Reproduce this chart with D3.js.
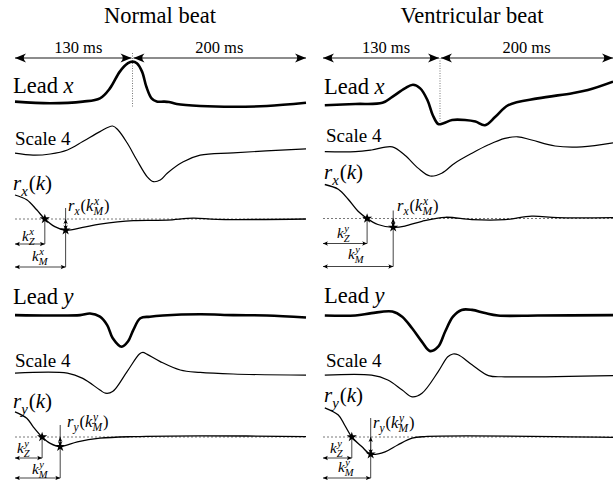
<!DOCTYPE html>
<html>
<head>
<meta charset="utf-8">
<script src="https://cdn.jsdelivr.net/npm/d3@7"></script>
<style>
  body { margin: 0; background: #fff; }
</style>
</head>
<body>
<div id="chart"></div>
<script>
// time in ms relative to the fiducial point, amplitude in arbitrary units
var normalLeadX = [[-130,0.06],[-91,0.02],[-55,0.06],[-36,0.14],[-25,0.39],[-14,0.81],[-5,1.02],[0,1.06],[5,1.02],[11,0.81],[16,0.43],[22,0.14],[28,0.06],[36,0.06],[42,0.05],[51,0],[78,-0.05],[116,-0.07],[155,-0.05],[200,0.03]];
var normalScaleX = [[-130,-0.03],[-110,-0.08],[-91,-0.05],[-72,0.05],[-55,0.26],[-36,0.51],[-22,0.65],[-16,0.55],[-6,0.23],[5,-0.2],[17,-0.62],[24,-0.74],[32,-0.7],[40,-0.53],[58,-0.25],[78,-0.08],[116,-0.02],[200,0.08]];
var normalRx = [[-130,0.6],[-117,0.48],[-106,0.23],[-97,0],[-86,-0.19],[-74,-0.28],[-55,-0.21],[-36,-0.13],[1,-0.04],[40,-0.03],[70,0.02],[97,-0.01],[200,0]];
var normalRxMarks = [[-97,0],[-74,-0.28]];
var normalLeadY = [[-130,0.01],[-91,0],[-58,0.01],[-47,0.05],[-36,-0.03],[-28,-0.24],[-22,-0.56],[-12,-0.78],[-5,-0.65],[1,-0.36],[9,-0.07],[20,-0.03],[35,0],[78,0.03],[116,0.01],[155,0],[200,-0.05]];
var normalScaleY = [[-130,0.02],[-72,0.02],[-55,-0.11],[-36,-0.4],[-30,-0.48],[-22,-0.44],[-6,0.06],[8,0.5],[12,0.54],[17,0.49],[32,0.31],[55,0.1],[78,0.04],[116,0],[200,-0.03]];
var normalRy = [[-130,0.63],[-117,0.47],[-110,0.26],[-100,0],[-91,-0.16],[-80,-0.24],[-61,-0.12],[-36,-0.03],[1,0.01],[78,0.03],[200,0.01]];
var normalRyMarks = [[-100,0],[-80,-0.24]];

var ventLeadX = [[-128,-0.03],[-94,0],[-64,0.03],[-53,0.18],[-39,0.39],[-30,0.48],[-22,0.39],[-14,0.1],[-8,-0.28],[-2,-0.5],[4,-0.48],[14,-0.4],[29,-0.4],[41,-0.44],[52,-0.53],[64,-0.32],[79,-0.03],[113,0.14],[153,0.27],[171,0.35],[200,0.56]];
var ventScaleX = [[-128,0.01],[-94,0.01],[-76,0.05],[-53,0.13],[-39,-0.08],[-24,-0.41],[-11,-0.6],[2,-0.53],[17,-0.28],[37,-0.03],[56,0.18],[75,0.34],[90,0.38],[106,0.3],[133,0.15],[164,0.13],[200,0.23]];
var ventRx = [[-128,0.85],[-113,0.73],[-102,0.48],[-91,0.18],[-81,0],[-69,-0.15],[-52,-0.22],[-39,-0.19],[-20,-0.07],[6,0.03],[37,-0.03],[75,-0.03],[106,0.06],[136,0.02],[200,0.02]];
var ventRxMarks = [[-81,0],[-52,-0.22]];
var ventLeadY = [[-128,0],[-94,0],[-76,0.06],[-53,0.1],[-42,-0.03],[-31,-0.32],[-20,-0.66],[-11,-0.89],[-2,-0.78],[6,-0.4],[15,-0.03],[25,0.14],[37,0.14],[52,0.06],[67,0],[113,0],[200,0.01]];
var ventScaleY = [[-128,-0.03],[-76,-0.03],[-58,-0.15],[-42,-0.4],[-31,-0.57],[-20,-0.48],[-2,0.06],[9,0.43],[15,0.5],[21,0.48],[37,0.23],[56,-0.04],[75,-0.07],[200,-0.04]];
var ventRy = [[-128,0.73],[-113,0.55],[-106,0.3],[-98,0],[-87,-0.24],[-77,-0.43],[-61,-0.37],[-47,-0.2],[-31,-0.03],[-17,0.01],[200,-0.01]];
var ventRyMarks = [[-98,0],[-77,-0.43]];

var spans = [[-130, 0], [0, 200]];
var spanLabels = ['130 ms', '200 ms'];
var spanLabelAt = [-60, 100];

var FONT = 'Liberation Serif';

var svg = d3.select('#chart').append('svg')
    .attr('width', 613)
    .attr('height', 480);

var defs = svg.append('defs');
defs.append('marker')
    .attr('id', 'big').attr('viewBox', '-12 -5 13 10')
    .attr('refX', 0).attr('refY', 0)
    .attr('markerWidth', 13).attr('markerHeight', 10)
    .attr('markerUnits', 'userSpaceOnUse')
    .attr('orient', 'auto-start-reverse')
    .append('path').attr('d', 'M0,0 L-11,-4.5 Q-6.5,0 -11,4.5 Z').attr('fill', '#000');
defs.append('marker')
    .attr('id', 'small').attr('viewBox', '-6 -3 7 6')
    .attr('refX', 0).attr('refY', 0)
    .attr('markerWidth', 7).attr('markerHeight', 6)
    .attr('markerUnits', 'userSpaceOnUse')
    .attr('orient', 'auto-start-reverse')
    .append('path').attr('d', 'M0,0 L-5,-2.2 Q-3,0 -5,2.2 Z').attr('fill', '#000');

// measures a string in the given style
var probe = svg.append('text').attr('x', -100).attr('y', -100).style('font-family', FONT);
function textWidth(s, size, italic) {
    probe.style('font-size', size + 'px').style('font-style', italic ? 'italic' : 'normal').text(s);
    return probe.node().getComputedTextLength();
}

// one <text> per formula; stacked scripts are tspans moved back under each other
function mathText(g, x, y, size, tokens) {
    var t = g.append('text').attr('x', x).attr('y', y)
        .style('font-family', FONT).style('font-size', size + 'px')
        .attr('xml:space', 'preserve');
    var cur = 0, pendDx = 0;
    var ss = size * 0.7;
    tokens.forEach(function(tk) {
        if (tk.sub !== undefined || tk.sup !== undefined) {
            var wSup = tk.sup !== undefined ? textWidth(tk.sup, ss, true) : 0;
            var wSub = tk.sub !== undefined ? textWidth(tk.sub, ss, true) : 0;
            if (tk.sup !== undefined) {
                t.append('tspan').attr('dx', 0.5).attr('dy', -size * 0.38 - cur)
                    .style('font-size', ss + 'px').style('font-style', 'italic').text(tk.sup);
                cur = -size * 0.38;
            }
            if (tk.sub !== undefined) {
                t.append('tspan').attr('dx', tk.sup !== undefined ? -(wSup + 0.5) : 0)
                    .attr('dy', size * 0.27 - cur)
                    .style('font-size', ss + 'px').style('font-style', 'italic').text(tk.sub);
                cur = size * 0.27;
            }
            pendDx = Math.max(wSup + 0.5, wSub) - (tk.sub !== undefined ? wSub : wSup + 0.5) + 1;
        } else {
            t.append('tspan').attr('dx', pendDx).attr('dy', -cur)
                .style('font-style', tk.it ? 'italic' : 'normal').text(tk.s);
            cur = 0; pendDx = 0;
        }
    });
}

var panels = [
    {title: 'Normal beat', titleX: 160, range: [15, 132.5, 306], dotted: [53, 108],
     rows: [
        {data: normalLeadX, base: 104, w: 2.6},
        {data: normalScaleX, base: 152, w: 1.2},
        {data: normalRx, base: 219, w: 1.3, marks: normalRxMarks, dz: 25, dm: 48, top: -11},
        {data: normalLeadY, base: 315.5, w: 2.6},
        {data: normalScaleY, base: 374, w: 1.2},
        {data: normalRy, base: 437, w: 1.3, marks: normalRyMarks, dz: 21, dm: 41, top: -12}
     ],
     labels: {lx: 13, leadX: 93, scaleX: 145, rx: 190, leadY: 304, scaleY: 367, ry: 408,
              rmx: [68, 211], kzx: [22, 241], kmx: [32, 261],
              rmy: [67, 427], kzy: [17, 453], kmy: [32, 474]},
     kAxis: 'x'},
    {title: 'Ventricular beat', titleX: 472, range: [323, 440, 613], dotted: [58, 125],
     rows: [
        {data: ventLeadX, base: 104, w: 2.6},
        {data: ventScaleX, base: 152, w: 1.2},
        {data: ventRx, base: 218.5, w: 1.3, marks: ventRxMarks, dz: 25, dm: 48, top: -8},
        {data: ventLeadY, base: 315.5, w: 2.6},
        {data: ventScaleY, base: 374, w: 1.2},
        {data: ventRy, base: 437, w: 1.3, marks: ventRyMarks, dz: 21, dm: 41, top: -19}
     ],
     labels: {lx: 324, leadX: 94, scaleX: 142, rx: 179, leadY: 303, scaleY: 367, ry: 402,
              rmx: [397, 211], kzx: [337, 238], kmx: [348, 259],
              rmy: [373, 428], kzy: [330, 453], kmy: [338, 472]},
     kAxis: 'y'}
];

panels.forEach(function(p) {
    var g = svg.append('g');
    var x = d3.scaleLinear().domain([-130, 0, 200]).range(p.range);

    g.append('text').attr('x', p.titleX).attr('y', 23)
        .attr('text-anchor', 'middle').style('font-family', FONT).style('font-size', '22.5px').text(p.title);

    // duration arrows
    spans.forEach(function(s, i) {
        g.append('line')
            .attr('x1', x(s[0]) + (i === 1 ? 1 : 0)).attr('x2', x(s[1]) - (i === 0 ? 1 : 0))
            .attr('y1', 58).attr('y2', 58)
            .attr('stroke', '#666').attr('stroke-width', 1.5)
            .attr('marker-start', 'url(#big)').attr('marker-end', 'url(#big)');
        g.append('text').attr('x', x(spanLabelAt[i])).attr('y', 53)
            .attr('text-anchor', 'middle').style('font-family', FONT).style('font-size', '16.5px').text(spanLabels[i]);
    });
    g.append('line')
        .attr('x1', x(0)).attr('x2', x(0))
        .attr('y1', p.dotted[0]).attr('y2', p.dotted[1])
        .attr('stroke', '#777').attr('stroke-width', 1).attr('stroke-dasharray', '1,1.5');

    p.rows.forEach(function(r) {
        var y = d3.scaleLinear().domain([-1, 1]).range([r.base + 40, r.base - 40]);
        var line = d3.line()
            .x(function(d) { return x(d[0]); })
            .y(function(d) { return y(d[1]); })
            .curve(d3.curveCatmullRom.alpha(0.5));

        if (r.marks) {
            g.append('line')
                .attr('x1', x(-130)).attr('x2', x(200))
                .attr('y1', y(0)).attr('y2', y(0))
                .attr('stroke', '#555').attr('stroke-width', 0.8).attr('stroke-dasharray', '2,2');
        }

        g.append('path').datum(r.data)
            .attr('d', line)
            .attr('fill', 'none')
            .attr('stroke', '#000')
            .attr('stroke-width', r.w)
            .attr('stroke-linejoin', 'round');

        if (r.marks) {
            var kz = r.marks[0], km = r.marks[1];
            var ann = g.append('g').attr('stroke', '#444').attr('stroke-width', 1);
            ann.append('line')
                .attr('x1', x(kz[0])).attr('x2', x(kz[0]))
                .attr('y1', y(kz[1])).attr('y2', r.base + r.dz);
            ann.append('line')
                .attr('x1', x(-130)).attr('x2', x(kz[0]))
                .attr('y1', r.base + r.dz).attr('y2', r.base + r.dz)
                .attr('marker-start', 'url(#small)').attr('marker-end', 'url(#small)');
            ann.append('line')
                .attr('x1', x(km[0])).attr('x2', x(km[0]))
                .attr('y1', r.base + r.top).attr('y2', r.base + r.dm);
            ann.append('line')
                .attr('x1', x(-130)).attr('x2', x(km[0]))
                .attr('y1', r.base + r.dm).attr('y2', r.base + r.dm)
                .attr('marker-start', 'url(#small)').attr('marker-end', 'url(#small)');
            ann.append('line')
                .attr('x1', x(km[0])).attr('x2', x(km[0]))
                .attr('y1', y(0)).attr('y2', y(km[1]))
                .attr('marker-start', 'url(#small)').attr('marker-end', 'url(#small)');

            g.selectAll(null).data(r.marks).enter().append('path')
                .attr('d', d3.symbol().type(d3.symbolStar).size(32))
                .attr('transform', function(d) { return 'translate(' + x(d[0]) + ',' + y(d[1]) + ')'; })
                .attr('fill', '#000');
        }
    });

    var L = p.labels;
    mathText(g, L.lx, L.leadX, 22.5, [{s: 'Lead '}, {s: 'x', it: 1}]);
    mathText(g, L.lx + 2, L.scaleX, 19, [{s: 'Scale 4'}]);
    mathText(g, L.lx, L.rx, 21, [{s: 'r', it: 1}, {sub: 'x'}, {s: '('}, {s: 'k', it: 1}, {s: ')'}]);
    mathText(g, L.rmx[0], L.rmx[1], 16.5, [{s: 'r', it: 1}, {sub: 'x'}, {s: '('}, {s: 'k', it: 1}, {sup: 'x', sub: 'M'}, {s: ')'}]);
    mathText(g, L.kzx[0], L.kzx[1], 15, [{s: 'k', it: 1}, {sup: p.kAxis, sub: 'Z'}]);
    mathText(g, L.kmx[0], L.kmx[1], 15, [{s: 'k', it: 1}, {sup: p.kAxis, sub: 'M'}]);

    mathText(g, L.lx, L.leadY, 22.5, [{s: 'Lead '}, {s: 'y', it: 1}]);
    mathText(g, L.lx + 2, L.scaleY, 19, [{s: 'Scale 4'}]);
    mathText(g, L.lx, L.ry, 21, [{s: 'r', it: 1}, {sub: 'y'}, {s: '('}, {s: 'k', it: 1}, {s: ')'}]);
    mathText(g, L.rmy[0], L.rmy[1], 16.5, [{s: 'r', it: 1}, {sub: 'y'}, {s: '('}, {s: 'k', it: 1}, {sup: 'y', sub: 'M'}, {s: ')'}]);
    mathText(g, L.kzy[0], L.kzy[1], 15, [{s: 'k', it: 1}, {sup: 'y', sub: 'Z'}]);
    mathText(g, L.kmy[0], L.kmy[1], 15, [{s: 'k', it: 1}, {sup: 'y', sub: 'M'}]);
});
probe.remove();
</script>
</body>
</html>
